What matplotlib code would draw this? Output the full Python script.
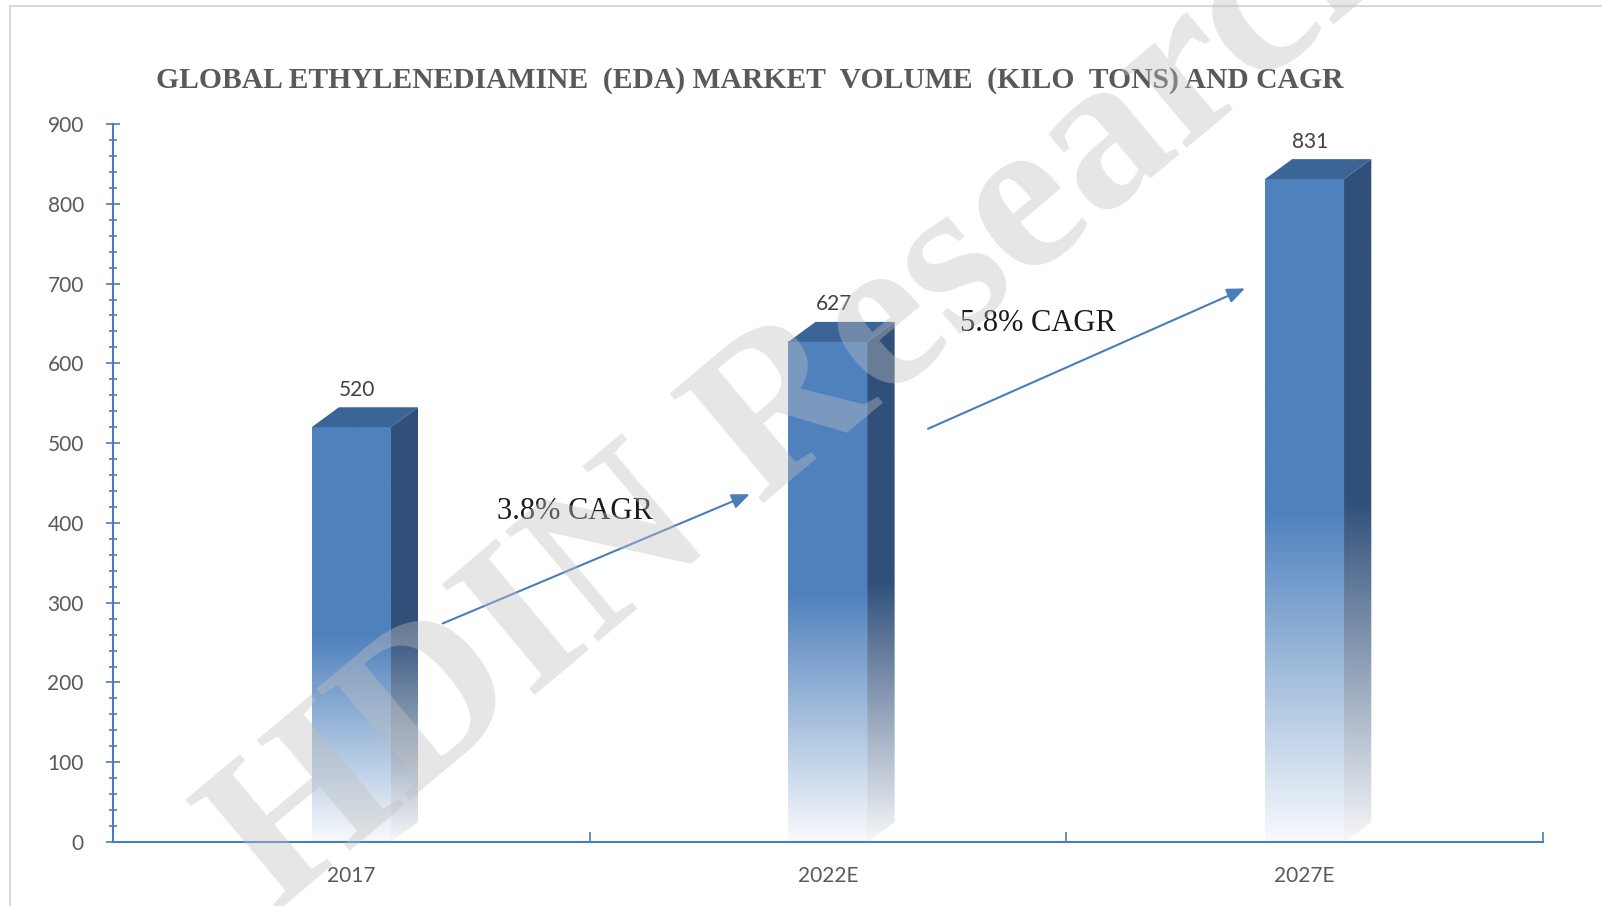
import numpy as np
import matplotlib.pyplot as plt
from matplotlib.colors import LinearSegmentedColormap
from matplotlib.patches import Polygon
from matplotlib.lines import Line2D
from matplotlib.ticker import MultipleLocator

# data
years = ['2017', '2022E', '2027E']
volumes = [520, 627, 831]
cagr_labels = ['3.8% CAGR', '5.8% CAGR']
title = 'GLOBAL ETHYLENEDIAMINE  (EDA) MARKET  VOLUME  (KILO  TONS) AND CAGR'

FRONT = '#4F81BD'
SIDE = '#30507A'
TOP = '#3B6497'
AXIS = '#4A7EBB'
GRAY = '#595959'

bar_w = 0.166     # front face width, in category units
depth_x = 0.057   # 3d depth
depth_y = 25

front_cmap = LinearSegmentedColormap.from_list(
    'front', [(0, '#F8FAFD'), (0.5, FRONT), (1, FRONT)])
side_cmap = LinearSegmentedColormap.from_list(
    'side', [(0, '#F5F6F8'), (0.5, SIDE), (1, SIDE)])
grad = np.linspace(0, 1, 256).reshape(-1, 1)

fig = plt.figure(figsize=(16.02, 9.06), dpi=100)
ax = fig.add_axes([0.0705, 0.0706, 0.8926, 0.7925])

for i, v in enumerate(volumes):
    x0 = i - bar_w / 2
    x1 = i + bar_w / 2
    ax.imshow(grad, extent=[x0, x1, 0, v], origin='lower', cmap=front_cmap,
              aspect='auto', zorder=2)
    side = Polygon([(x1, 0), (x1 + depth_x, depth_y), (x1 + depth_x, v + depth_y), (x1, v)],
                   closed=True, facecolor='none', edgecolor='none', transform=ax.transData)
    ax.add_patch(side)
    im = ax.imshow(grad, extent=[x1, x1 + depth_x, 0, v + depth_y], origin='lower',
                   cmap=side_cmap, aspect='auto', zorder=2)
    im.set_clip_path(side)
    ax.add_patch(Polygon([(x0, v), (x0 + depth_x, v + depth_y),
                          (x1 + depth_x, v + depth_y), (x1, v)],
                         closed=True, facecolor=TOP, edgecolor='none', zorder=3))
    ax.text(i + 0.012, v + depth_y + 22, str(v), ha='center', va='center',
            fontsize=15, family='Lato', color='#404040')

# CAGR arrows
arrows = [((0.192, 274), (0.836, 436)), ((1.210, 518), (1.875, 694))]
text_pos = [(0.469, 414), (1.440, 650)]
for (start, end), (tx, ty), lab in zip(arrows, text_pos, cagr_labels):
    ax.annotate('', xy=end, xytext=start,
                arrowprops=dict(arrowstyle='-|>,head_length=0.6,head_width=0.25',
                                color=AXIS, lw=1.5, mutation_scale=18,
                                shrinkA=0, shrinkB=0))
    ax.text(tx, ty, lab, ha='center', va='center', fontsize=22,
            family='Liberation Serif', color='#1a1a1a')

ax.set_xlim(-0.5, 2.5)
ax.set_ylim(0, 900)
ax.set_yticks(range(0, 901, 100))
ax.yaxis.set_minor_locator(MultipleLocator(20))
ax.set_xticks([-0.5, 0.5, 1.5, 2.5])
ax.set_xticklabels([])
ax.set_xticks(range(len(years)), minor=True)
ax.set_xticklabels(years, minor=True)

for s in ['top', 'right']:
    ax.spines[s].set_visible(False)
for s in ['left', 'bottom']:
    ax.spines[s].set_color(AXIS)
    ax.spines[s].set_linewidth(1.5)

ax.tick_params(axis='y', which='major', direction='inout', length=10, width=1.2,
               color=AXIS, pad=16, labelsize=15, labelcolor=GRAY)
ax.tick_params(axis='y', which='minor', direction='inout', length=6, width=1.2, color=AXIS)
ax.tick_params(axis='x', which='major', direction='in', length=7, width=1.2, color=AXIS)
ax.tick_params(axis='x', which='minor', length=0, pad=17, labelsize=15, labelcolor=GRAY)
for lab in ax.get_xticklabels(minor=True) + ax.get_yticklabels():
    lab.set_family('Lato')

fig.text(0.468, 0.911, title, ha='center', va='center', fontsize=21.3,
         fontweight='bold', family='Liberation Serif', color=GRAY)

# watermark
fig.text(0.509, 0.570, 'HDIN Research', rotation=40, rotation_mode='anchor',
         ha='center', va='center', fontsize=159, fontweight='bold',
         family='Liberation Serif', color='#c0c0c0', alpha=0.4, zorder=10)

# chart border
fig.add_artist(Line2D([10 / 1602, 1], [1 - 6 / 906] * 2, color='#d9d9d9', lw=1.5))
fig.add_artist(Line2D([10 / 1602] * 2, [0, 1 - 6 / 906], color='#d9d9d9', lw=1.5))

fig.savefig('out.png', dpi=100, facecolor='white')
